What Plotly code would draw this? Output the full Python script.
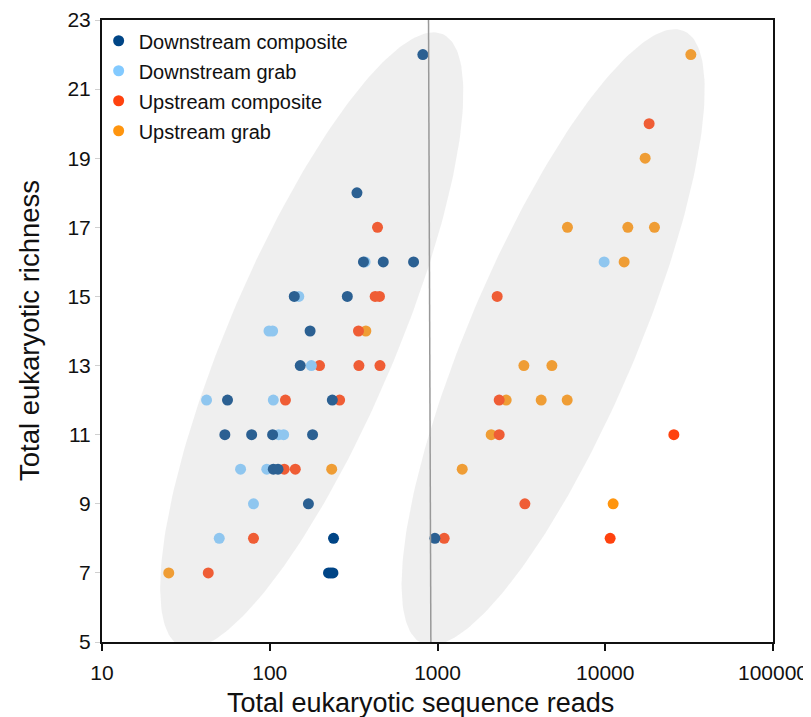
import numpy as np
import plotly.graph_objects as go

# ---------------- data ----------------
dc_reads = [818, 331, 362, 475, 720, 140, 290, 174, 152, 56, 236, 54, 78, 104, 180,
            105, 112, 170, 240, 965, 224, 231, 238]
dc_rich = [22, 18, 16, 16, 16, 15, 15, 14, 13, 12, 12, 11, 11, 11, 11,
           10, 10, 9, 8, 8, 7, 7, 7]

dg_reads = [370, 149, 99, 104, 177, 42, 105, 113, 121, 67, 96, 80, 50, 9849]
dg_rich = [16, 15, 14, 14, 13, 12, 12, 11, 11, 10, 10, 9, 8, 16]

uc_reads = [18260, 439, 425, 451, 2269, 338, 198, 340, 454, 124, 261, 2332,
            2332, 25640, 122, 142, 3318, 80, 1096, 10696, 43]
uc_rich = [20, 17, 15, 15, 15, 14, 13, 13, 13, 12, 12, 12,
           11, 11, 10, 10, 9, 8, 8, 8, 7]

ug_reads = [32370, 17290, 5953, 13635, 19650, 12962, 374, 3273, 4807, 2567, 4150,
            5929, 2089, 234, 1404, 11144, 25]
ug_rich = [22, 19, 17, 17, 17, 16, 14, 13, 13, 12, 12,
           12, 11, 10, 10, 9, 7]

x_tickvals = [10, 100, 1000, 10000, 100000]
x_ticktext = ["10", "100", "1000", "10000", "100000"]
y_tickvals = [5, 7, 9, 11, 13, 15, 17, 19, 21, 23]

series_names = ["Downstream composite", "Downstream grab", "Upstream composite", "Upstream grab"]
series_colors = ["#004586", "#83caff", "#ff420e", "#ff950e"]

x_title = "Total eukaryotic sequence reads"
y_title = "Total eukaryotic richness"

# group ellipses: centre (reads, richness)
ellipse_centres = [(178, 13.73), (4890, 13.82)]
divider_reads = [913, 884]
divider_rich = [5, 23]

# ---------------- layout geometry ----------------
# (the page places the figure with an 8px body margin)
W, H = 811, 717
ML, MR, MT, MB = 94, 46, 12, 83
PW, PH = W - ML - MR, H - MT - MB
DECADE_PX = PW / 4.0
UNIT_PX = PH / 18.0
ELL_A, ELL_B, ELL_THETA = 333.0, 83.5, np.deg2rad(66.9)

fig = go.Figure()

data = {
    "Downstream composite": (dc_reads, dc_rich),
    "Downstream grab": (dg_reads, dg_rich),
    "Upstream composite": (uc_reads, uc_rich),
    "Upstream grab": (ug_reads, ug_rich),
}
draw_order = ["Upstream grab", "Upstream composite", "Downstream grab", "Downstream composite"]
for name in draw_order:
    i = series_names.index(name)
    xs, ys = data[name]
    fig.add_trace(go.Scatter(
        x=xs, y=ys, mode="markers", name=name,
        marker=dict(color=series_colors[i], size=11, line=dict(width=0)),
        legendrank=i + 1, legendgroup=name,
    ))

t = np.linspace(0, 2 * np.pi, 240)
for (cx, cy) in ellipse_centres:
    u = ELL_A * np.cos(t)
    v = ELL_B * np.sin(t)
    dx = u * np.cos(ELL_THETA) - v * np.sin(ELL_THETA)
    dy = u * np.sin(ELL_THETA) + v * np.cos(ELL_THETA)
    ex = 10 ** (np.log10(cx) + dx / DECADE_PX)
    ey = cy + dy / UNIT_PX
    fig.add_trace(go.Scatter(
        x=ex, y=ey, mode="lines", fill="toself",
        fillcolor="rgba(185,185,185,0.23)", line=dict(width=0),
        showlegend=False, hoverinfo="skip",
    ))

fig.add_trace(go.Scatter(
    x=divider_reads, y=divider_rich, mode="lines",
    line=dict(color="#999999", width=1.5),
    showlegend=False, hoverinfo="skip",
))

font_family = "Liberation Sans, Arial, sans-serif"
fig.update_layout(
    width=W, height=H,
    margin=dict(l=ML, r=MR, t=MT, b=MB),
    paper_bgcolor="white", plot_bgcolor="white",
    font=dict(family=font_family, color="#111111"),
    showlegend=True,
    legend=dict(x=-0.005, y=0.998, xanchor="left", yanchor="top",
                font=dict(size=20, family=font_family, color="#111111"),
                bgcolor="rgba(0,0,0,0)", borderwidth=0, tracegroupgap=1),
    xaxis=dict(
        type="log", range=[1, 5], automargin=False,
        tickvals=x_tickvals, ticktext=x_ticktext,
        tickfont=dict(size=21), ticks="outside", ticklen=7, tickwidth=2, tickcolor="#111111",
        ticklabelstandoff=4,
        showline=True, linewidth=2, linecolor="#111111", mirror=True,
        showgrid=False, zeroline=False,
    ),
    yaxis=dict(
        range=[5, 23], tickvals=y_tickvals, automargin=False,
        tickfont=dict(size=21), ticks="outside", ticklen=5, tickwidth=1, tickcolor="#d0d0d0",
        showline=True, linewidth=2, linecolor="#111111", mirror=True,
        showgrid=False, zeroline=False,
    ),
    annotations=[
        dict(text=x_title, xref="paper", yref="paper",
             x=(412 - ML) / PW, y=-(695 - (MT + PH)) / PH,
             xanchor="center", yanchor="middle", showarrow=False,
             font=dict(size=27, family=font_family, color="#111111")),
        dict(text=y_title, xref="paper", yref="paper",
             x=(21 - ML) / PW, y=0.5, textangle=-90,
             xanchor="center", yanchor="middle", showarrow=False,
             font=dict(size=27.5, family=font_family, color="#111111")),
    ],
)

fig.write_html("out.html")
